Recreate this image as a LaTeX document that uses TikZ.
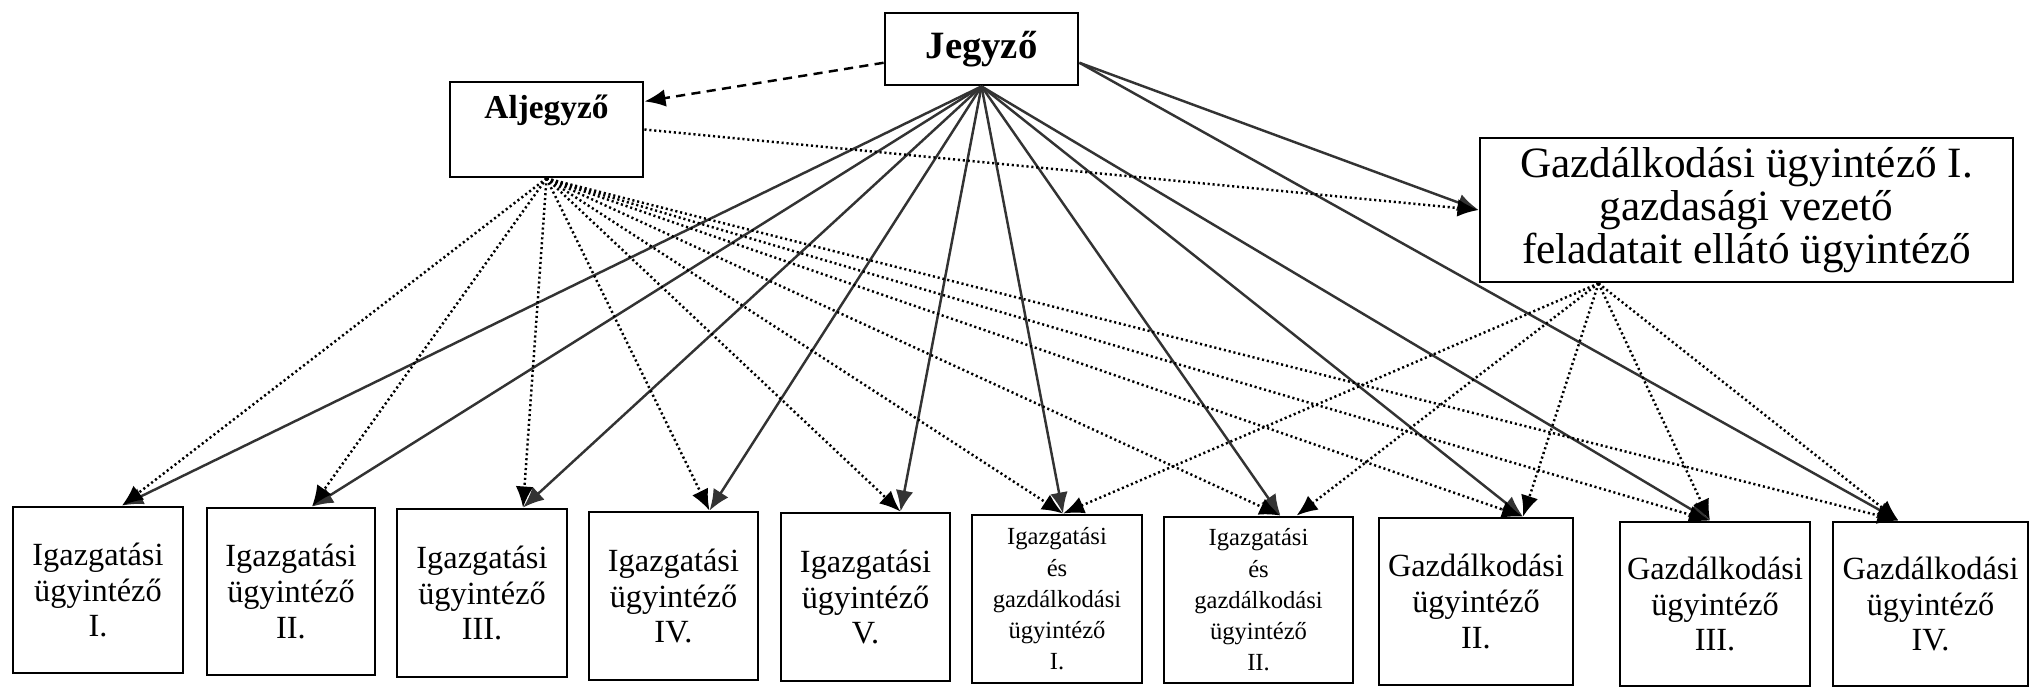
\documentclass[tikz,border=0pt]{standalone}
\usepackage{fontspec}
\setmainfont{Liberation Serif}
\usetikzlibrary{arrows.meta}

\tikzset{
  box/.style = {draw, line width=0.8pt, align=center, inner sep=1pt,
    font=\fontsize{9.2}{10.2}\selectfont},
  small/.style = {font=\fontsize{7}{8.9}\selectfont},
  jline/.style = {line width=0.7pt, color=black!80,
    -{Latex[length=6pt,width=5pt]}},
  aline/.style = {line width=0.7pt, dash pattern=on 0.6pt off 0.8pt,
    -{Latex[length=6pt,width=5pt]}},
  dline/.style = {line width=0.7pt, dash pattern=on 2.6pt off 1.8pt,
    -{Latex[length=6pt,width=5pt]}}
}

\begin{document}
\begin{tikzpicture}
\useasboundingbox (0,0) rectangle (20.33,-6.87);

\node (1) at (9.815,-0.49) [box, minimum width=1.93cm, minimum height=0.72cm, font=\fontsize{11}{13}\selectfont\bfseries] {Jegyző};
\node (2) at (5.465,-1.295) [box, minimum width=1.93cm, minimum height=0.95cm, inner ysep=0.1cm, text height=0.26cm, text depth=0.49cm, font=\fontsize{9.5}{11}\selectfont\bfseries] {Aljegyző};
\node (3) at (17.465,-2.10) [box, minimum width=5.33cm, minimum height=1.44cm, font=\fontsize{12.3}{11.2}\selectfont] {Gazdálkodási ügyintéző I.\\ gazdasági vezető\\ feladatait ellátó ügyintéző};

\node (4) at (0.98,-5.90) [box, minimum width=1.70cm, minimum height=1.66cm] {Igazgatási\\ ügyintéző\\ I.};
\node (5) at (2.91,-5.915) [box, minimum width=1.68cm, minimum height=1.67cm] {Igazgatási\\ ügyintéző\\ II.};
\node (6) at (4.82,-5.93) [box, minimum width=1.70cm, minimum height=1.68cm] {Igazgatási\\ ügyintéző\\ III.};
\node (7) at (6.735,-5.96) [box, minimum width=1.69cm, minimum height=1.68cm] {Igazgatási\\ ügyintéző\\ IV.};
\node (8) at (8.655,-5.97) [box, minimum width=1.69cm, minimum height=1.68cm] {Igazgatási\\ ügyintéző\\ V.};
\node (9) at (10.57,-5.99) [box, small, minimum width=1.70cm, minimum height=1.68cm] {Igazgatási\\ és\\ gazdálkodási\\ ügyintéző\\ I.};
\node (10) at (12.585,-6.00) [box, small, minimum width=1.89cm, minimum height=1.66cm] {Igazgatási\\ és\\ gazdálkodási\\ ügyintéző\\ II.};
\node (11) at (14.76,-6.015) [box, minimum width=1.94cm, minimum height=1.67cm] {Gazdálkodási\\ ügyintéző\\ II.};
\node (12) at (17.15,-6.04) [box, minimum width=1.90cm, minimum height=1.64cm] {Gazdálkodási\\ ügyintéző\\ III.};
\node (13) at (19.305,-6.04) [box, minimum width=1.95cm, minimum height=1.64cm] {Gazdálkodási\\ ügyintéző\\ IV.};

% jegyzo
\path [dline] (1.188) edge (2.16);
\path [jline] (1.-8) edge (3.west);
\path [jline] (1.south) edge ([xshift=0.24cm]4.north);
\path [jline] (1.south) edge ([xshift=0.21cm]5.north);
\path [jline] (1.south) edge ([xshift=0.41cm]6.north);
\path [jline] (1.south) edge ([xshift=0.36cm]7.north);
\path [jline] (1.south) edge ([xshift=0.35cm]8.north);
\path [jline] (1.south) edge ([xshift=0.06cm]9.north);
\path [jline] (1.south) edge ([xshift=0.22cm]10.north);
\path [jline] (1.south) edge ([xshift=0.47cm]11.north);
\path [jline] (1.south) edge ([xshift=-0.05cm]12.north);
\path [jline] (1.-8) edge ([xshift=-0.32cm]13.north);

% aljegyzo
\path [aline] (2.east) edge (3.west);
\path [aline] (2.south) edge ([xshift=0.24cm]4.north);
\path [aline] (2.south) edge ([xshift=0.21cm]5.north);
\path [aline] (2.south) edge ([xshift=0.41cm]6.north);
\path [aline] (2.south) edge ([xshift=0.36cm]7.north);
\path [aline] (2.south) edge ([xshift=0.35cm]8.north);
\path [aline] (2.south) edge ([xshift=0.06cm]9.north);
\path [aline] (2.south) edge ([xshift=0.22cm]10.north);
\path [aline] (2.south) edge ([xshift=0.47cm]11.north);
\path [aline] (2.south) edge ([xshift=-0.05cm]12.north);
\path [aline] (2.south) edge ([xshift=-0.32cm]13.north);

% gazdasagi vezeto
\path [aline] ([xshift=-1.48cm]3.south) edge ([xshift=0.06cm]9.north);
\path [aline] ([xshift=-1.48cm]3.south) edge ([xshift=0.38cm]10.north);
\path [aline] ([xshift=-1.48cm]3.south) edge ([xshift=0.47cm]11.north);
\path [aline] ([xshift=-1.48cm]3.south) edge ([xshift=-0.05cm]12.north);
\path [aline] ([xshift=-1.48cm]3.south) edge ([xshift=-0.32cm]13.north);

\end{tikzpicture}
\end{document}
